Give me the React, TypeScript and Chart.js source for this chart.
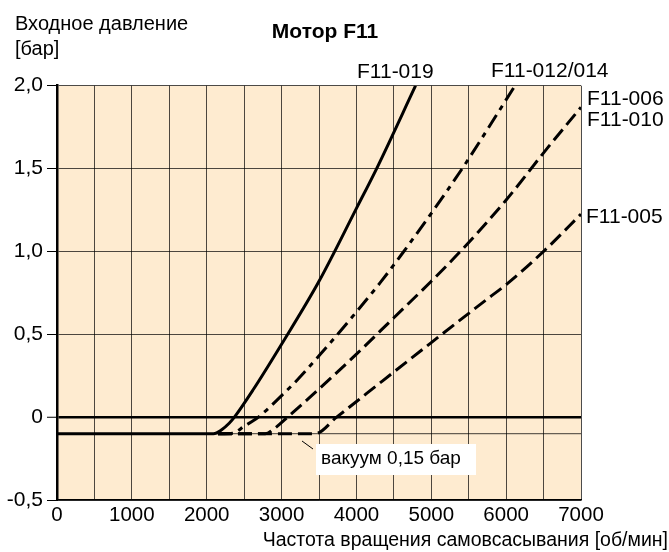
import React, { useEffect, useRef } from "react";
import { Chart, registerables } from "chart.js";

Chart.register(...registerables);

// ---- data ----
const xMin = 0;
const xMax = 7000;
const yMin = -0.5;
const yMax = 2.0;

const f019Rpm = [0, 2090, 2200, 2300, 2370, 2620, 3000, 3500, 4000, 4270, 4790];
const f019Bar = [-0.1, -0.1, -0.076, -0.037, 0, 0.165, 0.44, 0.82, 1.26, 1.5, 2.0];

const f012Rpm = [2150, 2350, 2500, 2690, 3000, 3200, 3500, 4000, 4315, 4600, 5000, 5428, 6118];
const f012Bar = [-0.1, -0.097, -0.055, 0, 0.13, 0.22, 0.37, 0.635, 0.81, 0.98, 1.23, 1.51, 2.0];

const f006Rpm = [2150, 2780, 2900, 3080, 3500, 4000, 4500, 5000, 5430, 6000, 6500, 7000];
const f006Bar = [-0.1, -0.1, -0.07, 0, 0.17, 0.38, 0.6, 0.82, 1.02, 1.31, 1.595, 1.87];

const f005Rpm = [2150, 3447, 3736, 4137, 5000, 5740, 6000, 6500, 7000];
const f005Bar = [-0.1, -0.1, 0, 0.143, 0.45, 0.71, 0.8, 1.0, 1.225];

const vacuumRpm = [0, 7000];
const vacuumBar = [-0.1, -0.1];

const seriesLabels = ["F11-019", "F11-012/014", "F11-006/010", "F11-005"];

const FONT = "'Liberation Sans', Arial, Helvetica, sans-serif";

function pts(xs: number[], ys: number[]) {
  return xs.map((x, i) => ({ x, y: ys[i] }));
}

const bgPlugin = {
  id: "bgPlugin",
  beforeDraw(chart: any) {
    const { ctx, chartArea } = chart;
    ctx.save();
    ctx.fillStyle = "#FEEBD0";
    ctx.fillRect(chartArea.left, chartArea.top, chartArea.right - chartArea.left, chartArea.bottom - chartArea.top);
    ctx.restore();
  },
};

const textPlugin = {
  id: "textPlugin",
  afterDraw(chart: any) {
    const { ctx } = chart;
    ctx.save();
    ctx.fillStyle = "#000";
    ctx.textBaseline = "alphabetic";

    // y axis title
    ctx.textAlign = "left";
    ctx.font = `20px ${FONT}`;
    ctx.fillText("Входное давление", 15, 30);
    ctx.fillText("[бар]", 15, 55);

    // chart title
    ctx.textAlign = "center";
    ctx.font = `bold 21px ${FONT}`;
    ctx.fillText("Мотор F11", 325, 38);

    // curve labels
    ctx.textAlign = "left";
    ctx.font = `21px ${FONT}`;
    ctx.fillText("F11-019", 357, 78);
    ctx.fillText("F11-012/014", 491, 77);
    ctx.fillText("F11-006", 587, 105);
    ctx.fillText("F11-010", 587, 126);
    ctx.fillText("F11-005", 586, 223);

    // x axis title
    ctx.textAlign = "right";
    ctx.font = `19.5px ${FONT}`;
    ctx.fillText("Частота вращения самовсасывания [об/мин]", 668, 546);

    // vacuum annotation
    ctx.fillStyle = "#fff";
    ctx.fillRect(316, 444, 160, 31);
    ctx.strokeStyle = "#000";
    ctx.lineWidth = 1;
    ctx.beginPath();
    ctx.moveTo(302, 441);
    ctx.lineTo(313, 449);
    ctx.stroke();
    ctx.fillStyle = "#000";
    ctx.textAlign = "left";
    ctx.font = `19px ${FONT}`;
    ctx.fillText("вакуум 0,15 бар", 321, 464);

    ctx.restore();
  },
};

export default function App() {
  const canvasRef = useRef<HTMLCanvasElement | null>(null);

  useEffect(() => {
    const canvas = canvasRef.current;
    if (!canvas) return;
    const lineBase = {
      borderColor: "#000",
      borderWidth: 3,
      pointRadius: 0,
      fill: false,
      cubicInterpolationMode: "monotone" as const,
      borderCapStyle: "butt" as const,
    };
    const chart = new Chart(canvas, {
      type: "line",
      data: {
        datasets: [
          { ...lineBase, label: seriesLabels[0], data: pts(f019Rpm, f019Bar) },
          { ...lineBase, label: seriesLabels[1], data: pts(f012Rpm, f012Bar), borderDash: [15, 6, 5, 6] },
          { ...lineBase, label: seriesLabels[2], data: pts(f006Rpm, f006Bar), borderDash: [14, 6] },
          { ...lineBase, label: seriesLabels[3], data: pts(f005Rpm, f005Bar), borderDash: [14, 6] },
          {
            label: "vacuum",
            data: pts(vacuumRpm, vacuumBar),
            borderColor: "rgba(0,0,0,0.75)",
            borderWidth: 1,
            pointRadius: 0,
            fill: false,
          },
        ],
      },
      options: {
        responsive: false,
        animation: false,
        events: [],
        layout: { padding: { left: 0, right: 88, top: 85.7, bottom: 0 } },
        plugins: { legend: { display: false }, tooltip: { enabled: false }, title: { display: false } },
        scales: {
          x: {
            type: "linear",
            min: xMin,
            max: xMax,
            afterFit: (s: any) => {
              s.height = 52;
            },
            border: { color: "#000", width: 1.5 },
            grid: { color: "rgba(0,0,0,0.7)", lineWidth: 1, drawTicks: false },
            ticks: {
              stepSize: 500,
              autoSkip: false,
              maxRotation: 0,
              padding: 3,
              color: "#000",
              font: { family: FONT, size: 20.5 },
              callback: (v: any) => (Number(v) % 1000 === 0 ? String(v) : ""),
            },
          },
          y: {
            type: "linear",
            min: yMin,
            max: yMax,
            afterFit: (s: any) => {
              s.width = 57;
            },
            border: { color: "#000", width: 2.5 },
            grid: {
              color: (c: any) => (c.tick && c.tick.value === 0 ? "#000" : "rgba(0,0,0,0.7)"),
              lineWidth: (c: any) => (c.tick && c.tick.value === 0 ? 2.5 : 1),
              tickColor: "#000",
              tickWidth: 1,
              tickLength: 10,
            },
            ticks: {
              stepSize: 0.5,
              padding: 4,
              color: "#000",
              font: { family: FONT, size: 21 },
              callback: (v: any) => (Number(v) === 0 ? "0" : Number(v).toFixed(1).replace(".", ",")),
            },
          },
        },
      },
      plugins: [bgPlugin, textPlugin],
    });
    return () => chart.destroy();
  }, []);

  return (
    <div style={{ position: "fixed", left: 0, top: 0, width: 669, height: 552, background: "#fff" }}>
      <canvas ref={canvasRef} width={669} height={552} style={{ width: 669, height: 552, display: "block" }} />
    </div>
  );
}
